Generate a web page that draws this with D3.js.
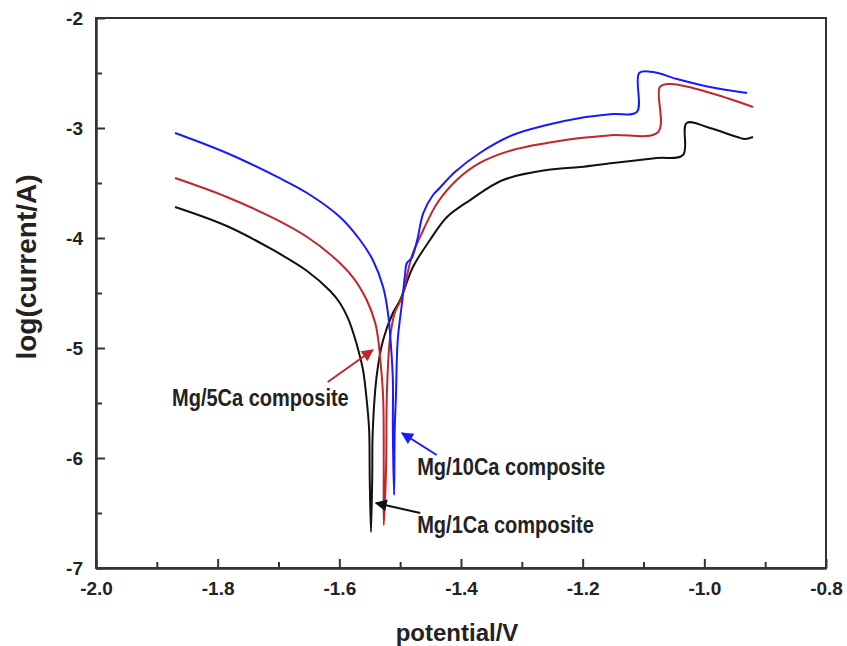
<!DOCTYPE html>
<html>
<head>
<meta charset="utf-8">
<script src="https://cdn.jsdelivr.net/npm/d3@7"></script>
<style>
  body { margin: 0; background: #fff; }
  text { font-family: "Liberation Sans", Arial, sans-serif; font-weight: bold; fill: #222; }
</style>
</head>
<body>
<div id="chart"></div>
<script>
// potential (V), log(current/A), in the order the curve is drawn
var mg10ca = [
  [-1.870, -3.045], [-1.785, -3.227], [-1.702, -3.445], [-1.653, -3.591], [-1.599, -3.809],
  [-1.566, -4.018], [-1.545, -4.200], [-1.528, -4.445], [-1.520, -4.682], [-1.515, -4.991],
  [-1.512, -5.291], [-1.512, -5.745], [-1.510, -6.336],
  [-1.509, -5.745], [-1.507, -5.445], [-1.504, -4.927], [-1.497, -4.591], [-1.492, -4.336],
  [-1.489, -4.227], [-1.481, -4.182], [-1.472, -4.018], [-1.462, -3.773], [-1.446, -3.609],
  [-1.435, -3.545], [-1.410, -3.400], [-1.369, -3.227], [-1.315, -3.064], [-1.259, -2.973],
  [-1.204, -2.909], [-1.150, -2.873], [-1.111, -2.855], [-1.107, -2.500], [-1.084, -2.491],
  [-1.045, -2.555], [-0.991, -2.627], [-0.930, -2.682]
];
var mg5ca = [
  [-1.870, -3.455], [-1.785, -3.627], [-1.709, -3.818], [-1.653, -3.991], [-1.610, -4.173],
  [-1.578, -4.355], [-1.555, -4.564], [-1.541, -4.773], [-1.536, -4.927], [-1.533, -5.082],
  [-1.528, -5.445], [-1.527, -6.045], [-1.527, -6.609],
  [-1.523, -6.045], [-1.522, -5.445], [-1.517, -4.927], [-1.509, -4.682], [-1.497, -4.536],
  [-1.484, -4.227], [-1.479, -4.136], [-1.462, -3.927], [-1.439, -3.682], [-1.407, -3.473],
  [-1.369, -3.318], [-1.315, -3.200], [-1.259, -3.136], [-1.204, -3.091], [-1.150, -3.064],
  [-1.076, -3.036], [-1.073, -2.627], [-1.056, -2.600], [-1.019, -2.636], [-0.963, -2.727],
  [-0.920, -2.809]
];
var mg1ca = [
  [-1.870, -3.718], [-1.785, -3.891], [-1.709, -4.109], [-1.653, -4.300], [-1.615, -4.482],
  [-1.599, -4.591], [-1.586, -4.727], [-1.576, -4.882], [-1.568, -5.036], [-1.561, -5.200],
  [-1.555, -5.473], [-1.551, -5.745], [-1.550, -6.200], [-1.548, -6.673],
  [-1.546, -6.200], [-1.545, -5.745], [-1.538, -5.227], [-1.528, -4.927], [-1.512, -4.682],
  [-1.500, -4.564], [-1.479, -4.264], [-1.451, -4.018], [-1.423, -3.809],
  [-1.385, -3.655], [-1.331, -3.473], [-1.259, -3.382], [-1.204, -3.355], [-1.150, -3.318],
  [-1.078, -3.273], [-1.035, -3.245], [-1.029, -2.955], [-0.991, -3.000], [-0.946, -3.082],
  [-0.933, -3.100], [-0.920, -3.082]
];

var xTicks = [-2.0, -1.8, -1.6, -1.4, -1.2, -1.0, -0.8];
var xMinor = [-1.9, -1.7, -1.5, -1.3, -1.1, -0.9];
var yTicks = [-2, -3, -4, -5, -6, -7];
var yMinor = [-2.5, -3.5, -4.5, -5.5, -6.5];

// labels with arrows: text position, arrow tail, arrow head (data units)
var notes = [
  { text: "Mg/5Ca composite", color: "#c0262c", tx: -1.875, ty: -5.527, from: [-1.619, -5.309], to: [-1.545, -5.018] },
  { text: "Mg/10Ca composite", color: "#1a1aff", tx: -1.472, ty: -6.155, from: [-1.440, -5.973], to: [-1.497, -5.773] },
  { text: "Mg/1Ca composite", color: "#111111", tx: -1.472, ty: -6.682, from: [-1.467, -6.500], to: [-1.540, -6.409] }
];

var width = 847;
var height = 646;
var margin = { top: 18, right: 21, bottom: 78, left: 96 };

var svg = d3.select("#chart")
  .append("svg")
  .attr("width", width)
  .attr("height", height);

var x = d3.scaleLinear()
  .domain([-2.0, -0.8])
  .range([margin.left, width - margin.right]);

var y = d3.scaleLinear()
  .domain([-7, -2])
  .range([height - margin.bottom, margin.top]);

var line = d3.line()
  .x(function(d) { return x(d[0]); })
  .y(function(d) { return y(d[1]); })
  .curve(d3.curveCatmullRom.alpha(0.5));

// curves
var series = [
  { data: mg1ca, color: "#111111" },
  { data: mg5ca, color: "#c0262c" },
  { data: mg10ca, color: "#1a1aff" }
];
svg.selectAll("path.curve")
  .data(series)
  .enter()
  .append("path")
  .attr("class", "curve")
  .attr("d", function(d) { return line(d.data); })
  .attr("fill", "none")
  .attr("stroke", function(d) { return d.color; })
  .attr("stroke-width", 2);

// plain hyphen for the minus sign, as in the picture
var fmt1 = function(d) { return d3.format(".1f")(d).replace("\u2212", "-"); };
var fmt0 = function(d) { return d3.format("d")(d).replace("\u2212", "-"); };

// axes (minor ticks in their own groups)
var bottomAxis = d3.axisBottom(x)
  .tickValues(xTicks)
  .tickFormat(fmt1)
  .tickSizeInner(-9).tickSizeOuter(0).tickPadding(14);
var bottomMinor = d3.axisBottom(x)
  .tickValues(xMinor).tickFormat("")
  .tickSizeInner(-6).tickSizeOuter(0);
var leftAxis = d3.axisLeft(y)
  .tickValues(yTicks)
  .tickFormat(fmt0)
  .tickSizeInner(-9).tickSizeOuter(0).tickPadding(13);
var leftMinor = d3.axisLeft(y)
  .tickValues(yMinor).tickFormat("")
  .tickSizeInner(-6).tickSizeOuter(0);

svg.append("g").attr("transform", "translate(0," + (height - margin.bottom) + ")").call(bottomMinor);
svg.append("g").attr("transform", "translate(0," + (height - margin.bottom) + ")").call(bottomAxis);
svg.append("g").attr("transform", "translate(" + margin.left + ",0)").call(leftMinor);
svg.append("g").attr("transform", "translate(" + margin.left + ",0)").call(leftAxis);

svg.selectAll(".tick text")
  .attr("font-size", 19)
  .attr("font-family", "Liberation Sans, Arial, sans-serif")
  .attr("font-weight", "bold")
  .attr("fill", "#222");
svg.selectAll(".tick line, .domain")
  .attr("stroke", "#333")
  .attr("stroke-width", 2);

// frame
svg.append("rect")
  .attr("x", x(-2.0))
  .attr("y", y(-2))
  .attr("width", x(-0.8) - x(-2.0))
  .attr("height", y(-7) - y(-2))
  .attr("fill", "none")
  .attr("stroke", "#333")
  .attr("stroke-width", 2);

// axis titles
svg.append("text")
  .attr("x", (x(-2.0) + x(-0.8)) / 2 - 4)
  .attr("y", 641)
  .attr("text-anchor", "middle")
  .attr("font-size", 24)
  .text("potential/V");

svg.append("text")
  .attr("transform", "translate(36," + 267 + ") rotate(-90)")
  .attr("text-anchor", "middle")
  .attr("font-size", 28)
  .text("log(current/A)");

// annotations
var defs = svg.append("defs");
notes.forEach(function(n, i) {
  defs.append("marker")
    .attr("id", "head" + i)
    .attr("viewBox", "0 0 10 10")
    .attr("refX", 9).attr("refY", 5)
    .attr("markerWidth", 7).attr("markerHeight", 6)
    .attr("markerUnits", "strokeWidth")
    .attr("orient", "auto")
    .append("path")
    .attr("d", "M0,0 L10,5 L0,10 z")
    .attr("fill", n.color);
});

svg.selectAll("line.arrow")
  .data(notes)
  .enter()
  .append("line")
  .attr("class", "arrow")
  .attr("x1", function(d) { return x(d.from[0]); })
  .attr("y1", function(d) { return y(d.from[1]); })
  .attr("x2", function(d) { return x(d.to[0]); })
  .attr("y2", function(d) { return y(d.to[1]); })
  .attr("stroke", function(d) { return d.color; })
  .attr("stroke-width", 2)
  .attr("marker-end", function(d, i) { return "url(#head" + i + ")"; });

// the labels in the picture are condensed, so squeeze them horizontally
svg.selectAll("text.note")
  .data(notes)
  .enter()
  .append("text")
  .attr("class", "note")
  .attr("transform", function(d) {
    return "translate(" + x(d.tx) + "," + y(d.ty) + ") scale(0.87,1)";
  })
  .attr("font-size", 23)
  .text(function(d) { return d.text; });
</script>
</body>
</html>
